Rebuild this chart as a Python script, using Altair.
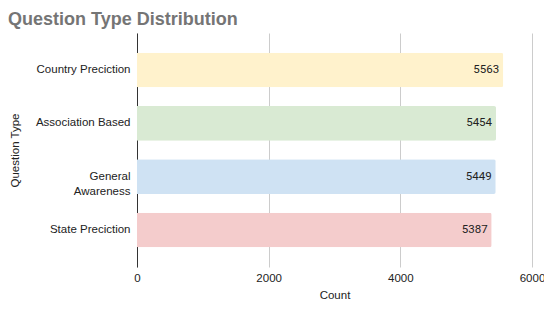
import altair as alt
import pandas as pd

categories = ["Country Preciction", "Association Based", "General|Awareness", "State Preciction"]
counts = [5563, 5454, 5449, 5387]
colors = ["#FFF2CC", "#D9EAD3", "#CFE2F3", "#F4CCCC"]
tick_values = [0, 2000, 4000, 6000]

df = pd.DataFrame({"type": categories, "count": counts})

y_enc = alt.Y(
    "type:N",
    sort=categories,
    scale=alt.Scale(paddingInner=0.35, paddingOuter=0.37),
    axis=alt.Axis(
        title="Question Type",
        labelExpr="split(datum.label, '|')",
        labelFont="Liberation Sans",
        labelFontSize=11.5,
        labelColor="#222222",
        labelPadding=7,
        labelLineHeight=15,
        labelLimit=200,
        ticks=False,
        domainColor="#333333",
        domainWidth=1,
        grid=False,
        titleFont="Liberation Sans",
        titleFontSize=11.5,
        titleFontWeight="normal",
        titleColor="#222222",
        titleAngle=-90,
        titleX=-122,
        titleY=117,
        titleAlign="center",
        titleBaseline="middle",
    ),
)

x_enc = alt.X(
    "count:Q",
    scale=alt.Scale(domain=[0, 6000], nice=False),
    axis=alt.Axis(
        title="Count",
        values=tick_values,
        format="d",
        labelFont="Liberation Sans",
        labelFontSize=11.5,
        labelColor="#222222",
        labelPadding=5,
        labelFlush=False,
        ticks=False,
        domain=False,
        grid=True,
        gridColor="#cccccc",
        gridWidth=1,
        titleFont="Liberation Sans",
        titleFontSize=11.5,
        titleFontWeight="normal",
        titleColor="#222222",
        titlePadding=6,
    ),
)

bars = alt.Chart(df).mark_bar(cornerRadiusEnd=2).encode(
    x=x_enc,
    y=y_enc,
    color=alt.Color("type:N", scale=alt.Scale(domain=categories, range=colors), legend=None),
)

labels = alt.Chart(df).mark_text(
    align="right", baseline="middle", dx=-4, font="Roboto", fontSize=11.5, color="#222222"
).encode(
    x=alt.X("count:Q"),
    y=alt.Y("type:N", sort=categories),
    text=alt.Text("count:Q", format="d"),
)

chart = (
    alt.layer(bars, labels)
    .properties(
        width=395,
        height=234,
        autosize=alt.AutoSizeParams(type="none"),
        padding={"left": 129, "top": 25, "right": 12, "bottom": 37},
        title=alt.TitleParams(
            "Question Type Distribution",
            anchor="start",
            frame="group",
            dx=-129,
            font="Liberation Sans",
            fontSize=18,
            fontWeight="bold",
            color="#757575",
            offset=4,
        ),
    )
    .configure_view(stroke=None)
)

chart.save("out.html", embed_options={"renderer": "svg", "actions": False})
